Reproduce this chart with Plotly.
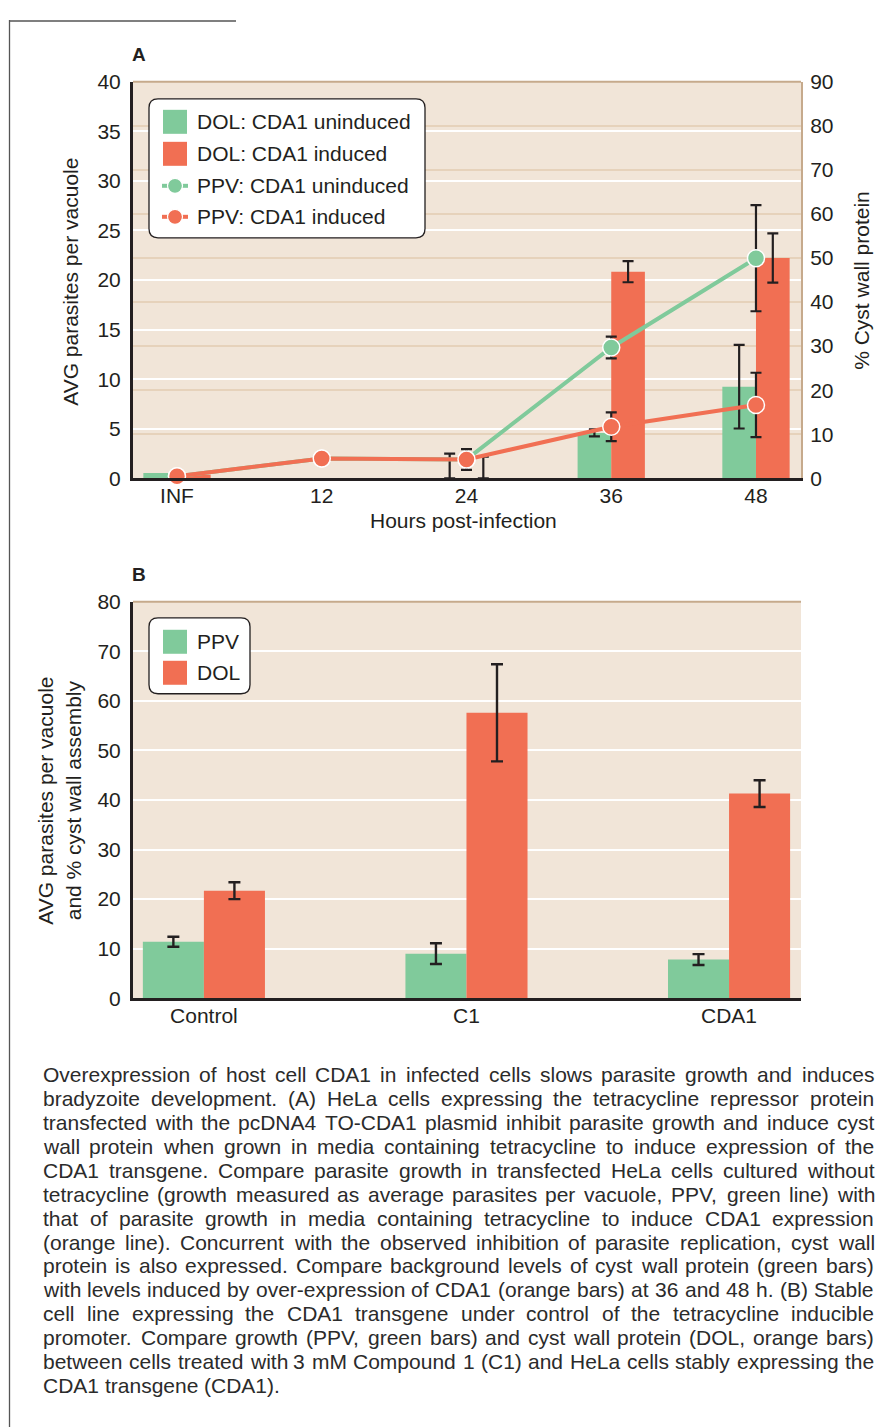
import numpy as np
import plotly.graph_objects as go

# ---------------- data ----------------
hours = ["INF", "12", "24", "36", "48"]
dol_uninduced = [1.2, 0.0, 0.0, 10.3, 20.8]
dol_uninduced_err = [None, None, 5.6, 0.8, 9.5]
dol_induced = [0.8, 0.0, 0.0, 46.9, 50.0]
dol_induced_err = [None, None, 4.9, 2.4, 5.6]
ppv_uninduced = [0.2, 2.0, 1.9, 13.2, 22.2]
ppv_uninduced_err = [None, None, None, 1.1, 5.35]
ppv_induced = [0.2, 2.0, 1.9, 5.2, 7.4]
ppv_induced_err = [None, None, 1.05, 1.45, 3.25]

groups_b = ["Control", "C1", "CDA1"]
ppv_b = [11.4, 9.0, 7.8]
ppv_b_err = [1.0, 2.1, 1.1]
dol_b = [21.7, 57.6, 41.3]
dol_b_err = [1.7, 9.8, 2.7]

legend_a = ["DOL: CDA1 uninduced", "DOL: CDA1 induced", "PPV: CDA1 uninduced", "PPV: CDA1 induced"]
legend_b = ["PPV", "DOL"]

caption_lines = [
    "Overexpression of host cell CDA1 in infected cells slows parasite growth and induces",
    "bradyzoite development. (A) HeLa cells expressing the tetracycline repressor protein",
    "transfected with the pcDNA4 TO-CDA1 plasmid inhibit parasite growth and induce cyst",
    "wall protein when grown in media containing tetracycline to induce expression of the",
    "CDA1 transgene. Compare parasite growth in transfected HeLa cells cultured without",
    "tetracycline (growth measured as average parasites per vacuole, PPV, green line) with",
    "that of parasite growth in media containing tetracycline to induce CDA1 expression",
    "(orange line). Concurrent with the observed inhibition of parasite replication, cyst wall",
    "protein is also expressed. Compare background levels of cyst wall protein (green bars)",
    "with levels induced by over-expression of CDA1 (orange bars) at 36 and 48 h. (B) Stable",
    "cell line expressing the CDA1 transgene under control of the tetracycline inducible",
    "promoter. Compare growth (PPV, green bars) and cyst wall protein (DOL, orange bars)",
    "between cells treated with 3 mM Compound 1 (C1) and HeLa cells stably expressing the",
    "CDA1 transgene (CDA1).",
]

# ---------------- geometry ----------------
BODY = 8          # page margin to the left of the figure
SY = 0.984        # vertical scale observed between page and picture
TOP = 20.5        # page offset of the figure top
W, H = 880, 1430
GREEN = "#80ca9b"
ORANGE = "#f16f53"
DARK = "#231f20"
BG = "#f1e5d8"
TAN_GRID = "#e6d2bb"
TAN_BORDER = "#c6aa8c"
FONT = "Liberation Sans, Arial, sans-serif"
FS = 21


def fx(px):
    return (px - BODY) / W


def fy(py):
    return 1 - (py / SY - TOP) / H


def nan_arr(errs):
    return np.array([np.nan if e is None else e for e in errs], dtype=float)


def err_bar(vals, errs, w=5.5):
    up = nan_arr(errs)
    down = np.array([np.nan if e is None else min(v, e) for v, e in zip(vals, errs)], dtype=float)
    return dict(type="data", symmetric=False, array=up, arrayminus=down,
                color=DARK, thickness=2.2, width=w)


fig = go.Figure()

# ---- panel A ----
fig.add_trace(go.Bar(x=hours, y=dol_uninduced, name=legend_a[0], marker_color=GREEN,
                     marker_line_width=0, error_y=err_bar(dol_uninduced, dol_uninduced_err),
                     xaxis="x", yaxis="y", showlegend=False))
fig.add_trace(go.Bar(x=hours, y=dol_induced, name=legend_a[1], marker_color=ORANGE,
                     marker_line_width=0, error_y=err_bar(dol_induced, dol_induced_err),
                     xaxis="x", yaxis="y", showlegend=False))
for vals, errs, col, nm in [(ppv_uninduced, ppv_uninduced_err, GREEN, legend_a[2]),
                            (ppv_induced, ppv_induced_err, ORANGE, legend_a[3])]:
    fig.add_trace(go.Scatter(x=hours, y=vals, name=nm, mode="lines+markers",
                             line=dict(color=col, width=4),
                             marker=dict(size=17, color=col, line=dict(color="white", width=1.5)),
                             error_y=dict(type="data", symmetric=True, array=nan_arr(errs),
                                          color=DARK, thickness=2.2, width=5.5),
                             cliponaxis=False, xaxis="x", yaxis="y2", showlegend=False))

# ---- panel B ----
fig.add_trace(go.Bar(x=groups_b, y=ppv_b, name=legend_b[0], marker_color=GREEN, marker_line_width=0,
                     error_y=dict(type="data", array=ppv_b_err, color=DARK, thickness=2.4, width=6),
                     xaxis="x2", yaxis="y3", showlegend=False))
fig.add_trace(go.Bar(x=groups_b, y=dol_b, name=legend_b[1], marker_color=ORANGE, marker_line_width=0,
                     error_y=dict(type="data", array=dol_b_err, color=DARK, thickness=2.4, width=6),
                     xaxis="x2", yaxis="y3", showlegend=False))

tickfont = dict(family=FONT, size=FS, color=DARK)
domA = [fy(478.5), fy(82)]
domB = [fy(998.5), fy(602)]
domX = [fx(133), fx(801)]

fig.update_layout(
    width=W, height=H,
    margin=dict(l=0, r=0, t=0, b=0),
    paper_bgcolor="white", plot_bgcolor=BG,
    font=dict(family=FONT, size=FS, color=DARK),
    barmode="group", bargap=0.535, bargroupgap=0,
    xaxis=dict(domain=domX, anchor="y", type="category", range=[-0.304, 4.311],
               showline=True, linecolor=DARK, linewidth=3, showgrid=False, zeroline=False,
               ticks="", tickfont=tickfont, ticklabelstandoff=-3),
    yaxis=dict(domain=domA, anchor="x", side="right", range=[0, 90], dtick=10,
               showgrid=True, gridcolor=TAN_GRID, gridwidth=2, zeroline=False,
               showline=True, linecolor=TAN_BORDER, linewidth=2,
               ticks="", tickfont=tickfont, ticklabelstandoff=3),
    yaxis2=dict(overlaying="y", anchor="x", side="left", range=[0, 40], dtick=5,
                showgrid=True, gridcolor="white", gridwidth=2, zeroline=False,
                showline=True, linecolor=DARK, linewidth=3,
                ticks="", tickfont=tickfont, ticklabelstandoff=5),
    xaxis2=dict(domain=domX, anchor="y3", type="category", range=[-0.27, 2.274],
                showline=True, linecolor=DARK, linewidth=3, showgrid=False, zeroline=False,
                ticks="", tickfont=tickfont, ticklabelstandoff=-3),
    yaxis3=dict(domain=domB, anchor="x2", side="left", range=[0, 80], dtick=10,
                showgrid=True, gridcolor="white", gridwidth=2, zeroline=False,
                showline=True, linecolor=DARK, linewidth=3,
                ticks="", tickfont=tickfont, ticklabelstandoff=5),
    yaxis4=dict(overlaying="y3", anchor="x2", side="right", range=[0.4, 80.4], dtick=10,
                showgrid=True, gridcolor=TAN_GRID, gridwidth=2, zeroline=False,
                showline=True, linecolor=TAN_BORDER, linewidth=2, showticklabels=False, ticks=""),
)

shapes = []
annotations = []

# frame lines of the page (top box drawn at the top edge of the figure)
line_gray = dict(color="#555555", width=1.3)
shapes.append(dict(type="line", xref="paper", yref="paper", x0=fx(9.5), x1=fx(9.5), y0=1, y1=0, line=line_gray))
shapes.append(dict(type="line", xref="paper", yref="paper", x0=fx(9.5), x1=fx(236), y0=1 - 1.0 / H, y1=1 - 1.0 / H,
                   line=line_gray))

# top borders of plot areas
for top in (82, 602):
    shapes.append(dict(type="line", xref="paper", yref="paper", x0=fx(133), x1=fx(801), y0=fy(top), y1=fy(top),
                       line=dict(color=TAN_BORDER, width=2), layer="above"))


def rounded_box(x0, y0, x1, y1, r=9):
    pts = (f"M{fx(x0 + r)},{fy(y0)} L{fx(x1 - r)},{fy(y0)} Q{fx(x1)},{fy(y0)} {fx(x1)},{fy(y0 + r)} "
           f"L{fx(x1)},{fy(y1 - r)} Q{fx(x1)},{fy(y1)} {fx(x1 - r)},{fy(y1)} "
           f"L{fx(x0 + r)},{fy(y1)} Q{fx(x0)},{fy(y1)} {fx(x0)},{fy(y1 - r)} "
           f"L{fx(x0)},{fy(y0 + r)} Q{fx(x0)},{fy(y0)} {fx(x0 + r)},{fy(y0)} Z")
    return dict(type="path", xref="paper", yref="paper", path=pts, fillcolor="white",
                line=dict(color=DARK, width=1.3), layer="above")


def swatch(cy, color):
    return dict(type="rect", xref="paper", yref="paper", x0=fx(163), x1=fx(187), y0=fy(cy + 12), y1=fy(cy - 12),
                fillcolor=color, line=dict(width=0), layer="above")


def line_swatch(cy, color):
    return [dict(type="line", xref="paper", yref="paper", x0=fx(162), x1=fx(188), y0=fy(cy), y1=fy(cy),
                 line=dict(color=color, width=4), layer="above"),
            dict(type="circle", xref="paper", yref="paper", x0=fx(175 - 7.5), x1=fx(175 + 7.5),
                 y0=fy(cy + 7.5), y1=fy(cy - 7.5), fillcolor=color, line=dict(color="white", width=1.2),
                 layer="above")]


def label(text, x, y, **kw):
    d = dict(text=text, xref="paper", yref="paper", x=fx(x), y=fy(y), showarrow=False,
             xanchor="left", yanchor="middle", font=dict(family=FONT, size=FS, color=DARK), borderpad=0)
    d.update(kw)
    return d


# legend A
shapes.append(rounded_box(149, 99, 425, 238))
rows_a = [122, 154, 186, 217]
shapes.append(swatch(rows_a[0], GREEN))
shapes.append(swatch(rows_a[1], ORANGE))
shapes += line_swatch(rows_a[2], GREEN)
shapes += line_swatch(rows_a[3], ORANGE)
for name, cy in zip(legend_a, rows_a):
    annotations.append(label(name, 196, cy))

# legend B
shapes.append(rounded_box(149, 618, 250, 694))
rows_b = [642, 673]
shapes.append(swatch(rows_b[0], GREEN))
shapes.append(swatch(rows_b[1], ORANGE))
for name, cy in zip(legend_b, rows_b):
    annotations.append(label(name, 196, cy))

# panel letters
annotations.append(label("<b>A</b>", 131, 55, font=dict(family=FONT, size=19, color=DARK)))
annotations.append(label("<b>B</b>", 131, 575, font=dict(family=FONT, size=19, color=DARK)))

# axis titles
annotations.append(label("AVG parasites per vacuole", 71, 282, xanchor="center", textangle=-90))
annotations.append(label("% Cyst wall protein", 862, 281, xanchor="center", textangle=-90))
annotations.append(label("Hours post-infection", 463, 521, xanchor="center"))
annotations.append(label("AVG parasites per vacuole<br>and % cyst wall assembly", 59, 801,
                         xanchor="center", textangle=-90))

# caption, justified using Arial/Liberation Sans advance widths
CW = {" ": 278, "!": 278, "%": 889, "(": 333, ")": 333, ",": 278, "-": 333, ".": 278, ":": 278, "/": 278}
for c in "0123456789":
    CW[c] = 556
CW.update(dict(zip("ABCDEFGHIJKLMNOPQRSTUVWXYZ",
                   [667, 667, 722, 722, 667, 611, 778, 722, 278, 500, 667, 556, 833, 722, 778, 667, 778, 722,
                    667, 611, 722, 667, 944, 667, 667, 611])))
CW.update(dict(zip("abcdefghijklmnopqrstuvwxyz",
                   [556, 556, 500, 556, 556, 278, 556, 556, 222, 222, 500, 222, 833, 556, 556, 556, 556, 333,
                    500, 278, 556, 500, 722, 500, 500, 500])))


def em_width(s):
    return sum(CW.get(c, 556) for c in s) / 1000.0


CAP_L, CAP_R = 42, 873
CAP_W = CAP_R - CAP_L
cap_fs = min(21.0, 0.995 * min(CAP_W / em_width(l) for l in caption_lines[:-1]))
CAP_TOP, CAP_STEP = 1075, 23.9
for i, line in enumerate(caption_lines):
    words = line.split(" ")
    widths = [em_width(w) * cap_fs for w in words]
    if i < len(caption_lines) - 1 and len(words) > 1:
        gap = (CAP_W - sum(widths)) / (len(words) - 1)
    else:
        gap = CW[" "] / 1000.0 * cap_fs
    x = CAP_L
    cy = CAP_TOP + i * CAP_STEP
    for w, wd in zip(words, widths):
        annotations.append(label(w, x, cy, font=dict(family=FONT, size=cap_fs, color="#2b2b2b")))
        x += wd + gap

fig.update_layout(shapes=shapes, annotations=annotations)
fig.write_html("out.html")
